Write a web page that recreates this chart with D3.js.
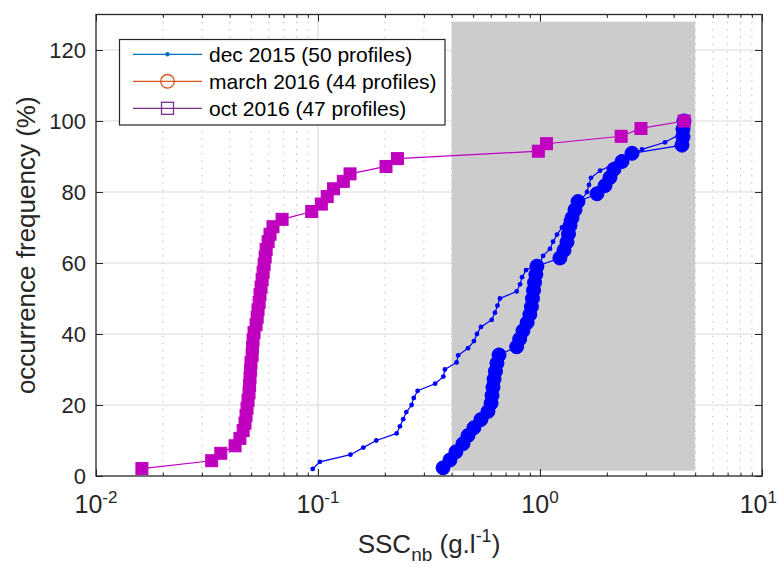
<!DOCTYPE html>
<html>
<head>
<meta charset="utf-8">
<script src="https://cdn.jsdelivr.net/npm/d3@7/dist/d3.min.js"></script>
<style>
html, body { margin: 0; padding: 0; background: #fff; }
svg { display: block; font-family: "Liberation Sans", Arial, Helvetica, sans-serif; }
</style>
</head>
<body>
<svg width="779" height="573"></svg>
<script>
// dec 2015 (50 profiles) - SSC (g/l) vs cumulative occurrence (%)
const decX = [0.0947, 0.102, 0.140, 0.160, 0.183, 0.226, 0.234, 0.242, 0.250, 0.264,
              0.270, 0.281, 0.337, 0.367, 0.373, 0.421, 0.428, 0.474, 0.504, 0.520,
              0.542, 0.606, 0.627, 0.643, 0.660, 0.785, 0.813, 0.830, 0.865, 1.000,
              1.032, 1.109, 1.145, 1.193, 1.256, 1.309, 1.380, 1.453, 1.546, 1.628,
              1.662, 1.697, 1.864, 2.177, 2.543, 2.881, 3.657, 4.184, 4.361, 4.407];
const decY = [2, 4, 6, 8, 10, 12, 14, 16, 18, 20,
              22, 24, 26, 28, 30, 32, 34, 36, 38, 40,
              42, 44, 46, 48, 50, 52, 54, 56, 58, 60,
              62, 64, 66, 68, 70, 72, 74, 76, 78, 80,
              82, 84, 86, 88, 90, 92, 94, 96, 98, 100];

// march 2016 (44 profiles)
const marX = [0.366, 0.393, 0.418, 0.450, 0.474, 0.504, 0.542, 0.583, 0.602, 0.608,
              0.614, 0.621, 0.630, 0.640, 0.654, 0.785, 0.810, 0.838, 0.875, 0.900,
              0.915, 0.925, 0.935, 0.945, 0.958, 0.969, 1.230, 1.283, 1.323, 1.344,
              1.365, 1.394, 1.438, 1.483, 1.806, 1.963, 2.067, 2.154, 2.341, 2.597,
              4.361, 4.407, 4.407, 4.452];
const marY = [2.3, 4.5, 6.8, 9.1, 11.4, 13.6, 15.9, 18.2, 20.5, 22.7,
              25.0, 27.3, 29.5, 31.8, 34.1, 36.4, 38.6, 40.9, 43.2, 45.5,
              47.7, 50.0, 52.3, 54.5, 56.8, 59.1, 61.4, 63.6, 65.9, 68.2,
              70.5, 72.7, 75.0, 77.3, 79.5, 81.8, 84.1, 86.4, 88.6, 90.9,
              93.2, 95.5, 97.7, 100];

// oct 2016 (47 profiles)
const octX = [0.0161, 0.0332, 0.0365, 0.0423, 0.0445, 0.0460, 0.0469, 0.0474, 0.0479, 0.0484,
              0.0489, 0.0492, 0.0494, 0.0497, 0.0499, 0.0505, 0.0507, 0.0510, 0.0515, 0.0526,
              0.0532, 0.0537, 0.0543, 0.0548, 0.0554, 0.0560, 0.0566, 0.0572, 0.0578, 0.0584,
              0.0596, 0.0608, 0.0627, 0.0689, 0.0937, 0.1035, 0.110, 0.1175, 0.130, 0.1394,
              0.2025, 0.228, 0.983, 1.07, 2.32, 2.85, 4.46];
const octY = [2.1, 4.3, 6.4, 8.5, 10.6, 12.8, 14.9, 17.0, 19.1, 21.3,
              23.4, 25.5, 27.7, 29.8, 31.9, 34.0, 36.2, 38.3, 40.4, 42.6,
              44.7, 46.8, 48.9, 51.1, 53.2, 55.3, 57.4, 59.6, 61.7, 63.8,
              66.0, 68.1, 70.2, 72.3, 74.5, 76.6, 78.7, 80.9, 83.0, 85.1,
              87.2, 89.4, 91.5, 93.6, 95.7, 97.9, 100];

// shaded band
const shadeX = [0.4, 5];
const shadeY = [1.5, 128];

const yTicks = [0, 20, 40, 60, 80, 100, 120];
const xTicks = [0.01, 0.1, 1, 10];
const xTickExp = ["-2", "-1", "0", "1"];
const legendLabels = ["dec 2015 (50 profiles)", "march 2016 (44 profiles)", "oct 2016 (47 profiles)"];

const svg = d3.select("svg");
const ink = "#262626";

const x = d3.scaleLog().domain([0.01, 10]).range([96, 762]);
const y = d3.scaleLinear().domain([0, 130]).range([476, 14.5]);

const minorX = [];
[0.01, 0.1, 1].forEach(d => { for (let m = 2; m <= 9; m++) minorX.push(m * d); });

// minor grid (dotted, vertical only)
svg.append("g").selectAll("line").data(minorX).enter().append("line")
    .attr("x1", d => x(d)).attr("x2", d => x(d))
    .attr("y1", y(130)).attr("y2", y(0))
    .attr("stroke", "#b5b5b5").attr("stroke-width", 1)
    .attr("stroke-dasharray", "1.3,6");

// major grid
svg.append("g").selectAll("line").data(xTicks.slice(1, 3)).enter().append("line")
    .attr("x1", d => x(d)).attr("x2", d => x(d))
    .attr("y1", y(130)).attr("y2", y(0))
    .attr("stroke", "#dadada").attr("stroke-width", 1.2);
svg.append("g").selectAll("line").data(yTicks.slice(1)).enter().append("line")
    .attr("x1", x(0.01)).attr("x2", x(10))
    .attr("y1", d => y(d)).attr("y2", d => y(d))
    .attr("stroke", "#dadada").attr("stroke-width", 1.2);

// gray band
svg.append("rect")
    .attr("x", x(shadeX[0])).attr("width", x(shadeX[1]) - x(shadeX[0]))
    .attr("y", y(shadeY[1])).attr("height", y(shadeY[0]) - y(shadeY[1]))
    .attr("fill", "#cccccc");

const line = d3.line().x(d => x(d[0])).y(d => y(d[1]));

// dec 2015
const decPts = d3.zip(decX, decY);
svg.append("path").datum(decPts).attr("d", line)
    .attr("fill", "none").attr("stroke", "#0000ff").attr("stroke-width", 1.2);
svg.append("g").selectAll("circle").data(decPts).enter().append("circle")
    .attr("cx", d => x(d[0])).attr("cy", d => y(d[1])).attr("r", 2.4)
    .attr("fill", "#0000ff");

// march 2016
const marPts = d3.zip(marX, marY);
svg.append("path").datum(marPts).attr("d", line)
    .attr("fill", "none").attr("stroke", "#0000ff").attr("stroke-width", 1.2);
svg.append("g").selectAll("circle").data(marPts).enter().append("circle")
    .attr("cx", d => x(d[0])).attr("cy", d => y(d[1])).attr("r", 7)
    .attr("fill", "#0000ff").attr("stroke", "#0000ff").attr("stroke-width", 1);

// oct 2016
const octPts = d3.zip(octX, octY);
svg.append("path").datum(octPts).attr("d", line)
    .attr("fill", "none").attr("stroke", "#bf00bf").attr("stroke-width", 1.2);
svg.append("g").selectAll("rect").data(octPts).enter().append("rect")
    .attr("x", d => x(d[0]) - 6).attr("y", d => y(d[1]) - 6)
    .attr("width", 12).attr("height", 12)
    .attr("fill", "#bf00bf").attr("stroke", "#bf00bf").attr("stroke-width", 1);

// axes (inward ticks)
const gLeft = svg.append("g").attr("transform", `translate(${x(0.01)},0)`)
    .call(d3.axisLeft(y).tickValues(yTicks).tickSize(-7).tickSizeOuter(0).tickPadding(10));
const gRight = svg.append("g").attr("transform", `translate(${x(10)},0)`)
    .call(d3.axisRight(y).tickValues(yTicks).tickSize(-7).tickSizeOuter(0).tickFormat(""));
const gBottom = svg.append("g").attr("transform", `translate(0,${y(0)})`)
    .call(d3.axisBottom(x).tickValues(xTicks).tickSize(-7).tickSizeOuter(0).tickFormat(""));
const gTop = svg.append("g").attr("transform", `translate(0,${y(130)})`)
    .call(d3.axisTop(x).tickValues(xTicks).tickSize(-7).tickSizeOuter(0).tickFormat(""));
const gBottomMinor = svg.append("g").attr("transform", `translate(0,${y(0)})`)
    .call(d3.axisBottom(x).tickValues(minorX).tickSize(-3.5).tickSizeOuter(0).tickFormat(""));
const gTopMinor = svg.append("g").attr("transform", `translate(0,${y(130)})`)
    .call(d3.axisTop(x).tickValues(minorX).tickSize(-3.5).tickSizeOuter(0).tickFormat(""));

[gLeft, gRight, gBottom, gTop, gBottomMinor, gTopMinor].forEach(g => {
    g.select(".domain").remove();
    g.selectAll(".tick line").attr("stroke", ink).attr("stroke-width", 1);
});
gLeft.selectAll(".tick text")
    .attr("fill", ink).attr("font-size", 22)
    .attr("font-family", "Liberation Sans, Arial, sans-serif");

// x tick labels 10^n (last one kept inside the page)
svg.append("g").selectAll("text").data(xTicks).enter().append("text")
    .attr("x", (d, i) => i === xTicks.length - 1 ? 777 : x(d)).attr("y", 513)
    .attr("text-anchor", (d, i) => i === xTicks.length - 1 ? "end" : "middle")
    .attr("fill", ink).attr("font-size", 25)
    .each(function(d, i) {
        const t = d3.select(this);
        t.append("tspan").text("10");
        t.append("tspan").attr("dy", -10).attr("font-size", 17).text(xTickExp[i]);
    });

// box
svg.append("rect")
    .attr("x", x(0.01)).attr("y", y(130))
    .attr("width", x(10) - x(0.01)).attr("height", y(0) - y(130))
    .attr("fill", "none").attr("stroke", ink).attr("stroke-width", 1.3);

// axis labels
const xl = svg.append("text").attr("x", (x(0.01) + x(10)) / 2).attr("y", 553)
    .attr("text-anchor", "middle").attr("fill", ink).attr("font-size", 26);
xl.append("tspan").text("SSC");
xl.append("tspan").attr("dy", 8).attr("font-size", 19).text("nb");
xl.append("tspan").attr("dy", -8).text(" (g.l");
xl.append("tspan").attr("dy", -11).attr("font-size", 18).text("-1");
xl.append("tspan").attr("dy", 11).text(")");

svg.append("text")
    .attr("transform", `translate(35,${(y(0) + y(130)) / 2}) rotate(-90)`)
    .attr("text-anchor", "middle").attr("fill", ink).attr("font-size", 26)
    .text("occurrence frequency (%)");

// legend
const lg = svg.append("g");
lg.append("rect").attr("x", 119.5).attr("y", 39.5).attr("width", 325.5).attr("height", 85.5)
    .attr("fill", "#fff").attr("stroke", ink).attr("stroke-width", 1.2);
const legColors = ["#0072bd", "#d95319", "#7e2f8e"];
const legRows = lg.selectAll("g.row").data(legendLabels).enter().append("g")
    .attr("class", "row")
    .attr("transform", (d, i) => `translate(0,${54.3 + i * 27})`);
legRows.append("line").attr("x1", 133).attr("x2", 202)
    .attr("stroke", (d, i) => legColors[i]).attr("stroke-width", 1.2);
legRows.append("text").attr("x", 209).attr("dy", "0.36em")
    .attr("font-size", 21).attr("fill", "#000").text(d => d);
legRows.filter((d, i) => i === 0).append("circle")
    .attr("cx", 167.5).attr("r", 2.2).attr("fill", legColors[0]);
legRows.filter((d, i) => i === 1).append("circle")
    .attr("cx", 167.5).attr("r", 6.8).attr("fill", "none")
    .attr("stroke", legColors[1]).attr("stroke-width", 1.3);
legRows.filter((d, i) => i === 2).append("rect")
    .attr("x", 161.5).attr("y", -6).attr("width", 12).attr("height", 12)
    .attr("fill", "none").attr("stroke", legColors[2]).attr("stroke-width", 1.3);
</script>
</body>
</html>
